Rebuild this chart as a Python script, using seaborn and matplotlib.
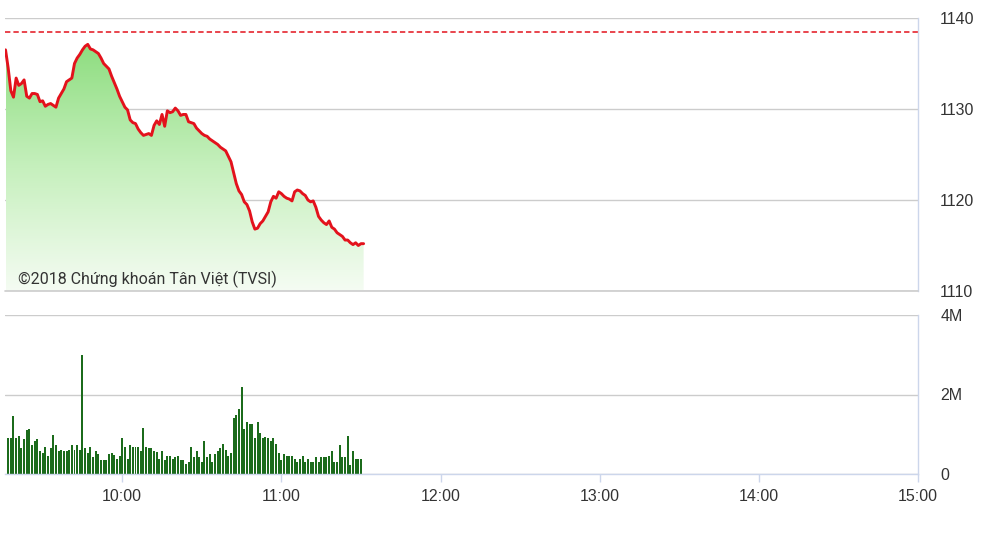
import numpy as np
import pandas as pd
import matplotlib
matplotlib.use('Agg')
import matplotlib.pyplot as plt
import seaborn as sns
from matplotlib.colors import LinearSegmentedColormap

sns.set_theme(style='white')
plt.rcParams['font.family'] = ['Liberation Sans', 'DejaVu Sans']

# VN-Index intraday, one point per minute from 9:16
price = [
    1136.5, 1134.5, 1132.0, 1131.3, 1133.4, 1132.6, 1132.8, 1133.2, 1131.4, 1131.2,
    1131.7, 1131.7, 1131.6, 1130.8, 1130.9, 1130.3, 1130.5, 1130.6, 1130.4, 1130.2,
    1131.2, 1131.7, 1132.2, 1133.0, 1133.2, 1133.4, 1135.0, 1135.6, 1136.0, 1136.5,
    1136.9, 1137.1, 1136.6, 1136.5, 1136.3, 1136.1, 1135.6, 1135.0, 1134.7, 1134.4,
    1133.6, 1132.9, 1132.2, 1131.4, 1130.8, 1130.2, 1129.9, 1128.8, 1128.5, 1128.4,
    1127.8, 1127.4, 1127.1, 1127.2, 1127.3, 1127.1, 1128.2, 1128.7, 1128.3, 1129.4,
    1128.1, 1129.8, 1129.6, 1129.7, 1130.1, 1129.8, 1129.3, 1129.4, 1129.4, 1128.6,
    1128.5, 1128.4, 1127.9, 1127.6, 1127.3, 1127.1, 1127.0, 1126.7, 1126.5, 1126.3,
    1126.1, 1125.8, 1125.6, 1125.4, 1124.8, 1124.2, 1123.0, 1121.8, 1121.0, 1120.6,
    1119.8, 1119.5, 1118.8, 1117.6, 1116.8, 1116.9, 1117.4, 1117.7, 1118.2, 1118.7,
    1119.8, 1120.4, 1120.2, 1120.9, 1120.7, 1120.4, 1120.2, 1120.1, 1119.9, 1120.9,
    1121.1, 1121.0, 1120.7, 1120.5, 1120.0, 1119.8, 1119.9, 1119.2, 1118.2, 1117.8,
    1117.5, 1117.3, 1117.7, 1117.0, 1116.8, 1116.4, 1116.2, 1116.0, 1115.6, 1115.6,
    1115.3, 1115.1, 1115.3, 1115.0, 1115.2, 1115.2,
]
price_minute = np.arange(16, 16 + len(price))  # minutes after 9:00
ref_price = 1138.5

# matched volume per minute, millions of shares
volume_m = [
    0.90, 0.90, 1.45, 0.90, 0.96, 0.65, 0.88, 1.11, 1.13, 0.73,
    0.83, 0.88, 0.58, 0.52, 0.68, 0.45, 0.65, 0.98, 0.73, 0.58,
    0.61, 0.58, 0.58, 0.61, 0.73, 0.61, 0.73, 0.61, 3.00, 0.65,
    0.52, 0.68, 0.42, 0.58, 0.50, 0.35, 0.35, 0.35, 0.50, 0.52,
    0.48, 0.38, 0.45, 0.90, 0.68, 0.38, 0.73, 0.68, 0.68, 0.68,
    0.58, 1.15, 0.68, 0.65, 0.65, 0.58, 0.55, 0.38, 0.58, 0.35,
    0.45, 0.45, 0.38, 0.42, 0.45, 0.35, 0.35, 0.25, 0.30, 0.68,
    0.42, 0.58, 0.42, 0.31, 0.83, 0.42, 0.50, 0.31, 0.50, 0.58,
    0.65, 0.76, 0.61, 0.45, 0.52, 1.41, 1.49, 1.64, 2.20, 1.14,
    1.30, 1.26, 1.26, 0.90, 1.30, 1.03, 0.90, 0.94, 0.90, 0.83,
    0.90, 0.76, 0.54, 0.35, 0.50, 0.45, 0.45, 0.45, 0.37, 0.29,
    0.37, 0.45, 0.29, 0.37, 0.29, 0.29, 0.42, 0.29, 0.42, 0.42,
    0.42, 0.45, 0.58, 0.31, 0.31, 0.73, 0.42, 0.42, 0.96, 0.23,
    0.58, 0.37, 0.37, 0.37,
]
volume_minute = np.arange(17, 17 + len(volume_m))

hour_ticks = [60, 120, 180, 240, 300, 360]
hour_labels = ['10:00', '11:00', '12:00', '13:00', '14:00', '15:00']
price_ticks = [1110, 1120, 1130, 1140]
vol_ticks = [0, 2, 4]
vol_labels = ['0', '2M', '4M']
watermark = '©2018 Chứng khoán Tân Việt (TVSI)'

RED = '#e3121c'
GREEN_BAR = '#1b6b1b'
GRID = '#cccccc'
AXIS = '#ccd6eb'
TEXT = '#333333'
XMIN, XMAX = 15.8, 360

W, H = 981, 551
fig = plt.figure(figsize=(W / 100, H / 100), dpi=100, facecolor='white')
ax1 = fig.add_axes([5 / W, 1 - 291 / H, 913 / W, 273 / H])
ax2 = fig.add_axes([5 / W, 1 - 474 / H, 913 / W, 159 / H])

# ---- price panel ----
df_p = pd.DataFrame({'minute': price_minute, 'price': price})
grad = LinearSegmentedColormap.from_list('g', ['#f5fcf3', '#c6f0bd', '#8edd80'])
img = ax1.imshow(np.linspace(0, 1, 256).reshape(-1, 1), cmap=grad, aspect='auto',
                 origin='lower', interpolation='bilinear',
                 extent=[price_minute[0], price_minute[-1], 1110, max(price)], zorder=1)
poly = ax1.fill_between(price_minute, price, 1110, color='none', lw=0)
img.set_clip_path(poly.get_paths()[0], transform=ax1.transData)

sns.lineplot(data=df_p, x='minute', y='price', color=RED, lw=2.1, ax=ax1, zorder=4)
ax1.axhline(ref_price, color=RED, ls=(0, (3.5, 2)), lw=1.1, zorder=3)
ax1.axhline(1110, color=GRID, lw=1.2, zorder=5, clip_on=False)

ax1.set_xlim(XMIN, XMAX)
ax1.set_ylim(1110, 1140)
ax1.set_yticks(price_ticks)
ax1.set_xticks([])
ax1.set_xlabel('')
ax1.set_ylabel('')
ax1.yaxis.tick_right()
ax1.tick_params(axis='y', length=0, pad=16, labelsize=11.5, labelcolor=TEXT)
ax1.yaxis.grid(True, color=GRID, lw=1)
ax1.set_axisbelow(True)
for s in ['top', 'left', 'bottom']:
    ax1.spines[s].set_visible(False)
ax1.spines['right'].set_color(AXIS)
ax1.spines['right'].set_linewidth(1)
ax1.text(13 / 913, 12 / 273, watermark, transform=ax1.transAxes, ha='left', va='center',
         fontsize=11.5, color=TEXT, family=['Roboto', 'DejaVu Sans'], zorder=6)

# ---- volume panel ----
sns.barplot(x=volume_minute, y=volume_m, native_scale=True, color=GREEN_BAR,
            saturation=1, width=0.75, linewidth=0, ax=ax2, zorder=3)
ax2.set_xlim(XMIN, XMAX)
ax2.set_ylim(0, 4)
ax2.set_yticks(vol_ticks)
ax2.set_yticklabels(vol_labels)
ax2.set_xticks(hour_ticks)
ax2.set_xticklabels(hour_labels)
ax2.set_xlabel('')
ax2.set_ylabel('')
ax2.yaxis.tick_right()
ax2.tick_params(axis='y', length=0, pad=16, labelsize=11.5, labelcolor=TEXT)
ax2.tick_params(axis='x', bottom=True, length=6, width=1, color=AXIS, pad=5,
                labelsize=11.5, labelcolor=TEXT)
ax2.yaxis.grid(True, color=GRID, lw=1)
ax2.set_axisbelow(True)
for s in ['top', 'left']:
    ax2.spines[s].set_visible(False)
for s in ['right', 'bottom']:
    ax2.spines[s].set_color(AXIS)
    ax2.spines[s].set_linewidth(1)
    ax2.spines[s].set_zorder(4)

fig.savefig('out.png', dpi=100, facecolor='white')
